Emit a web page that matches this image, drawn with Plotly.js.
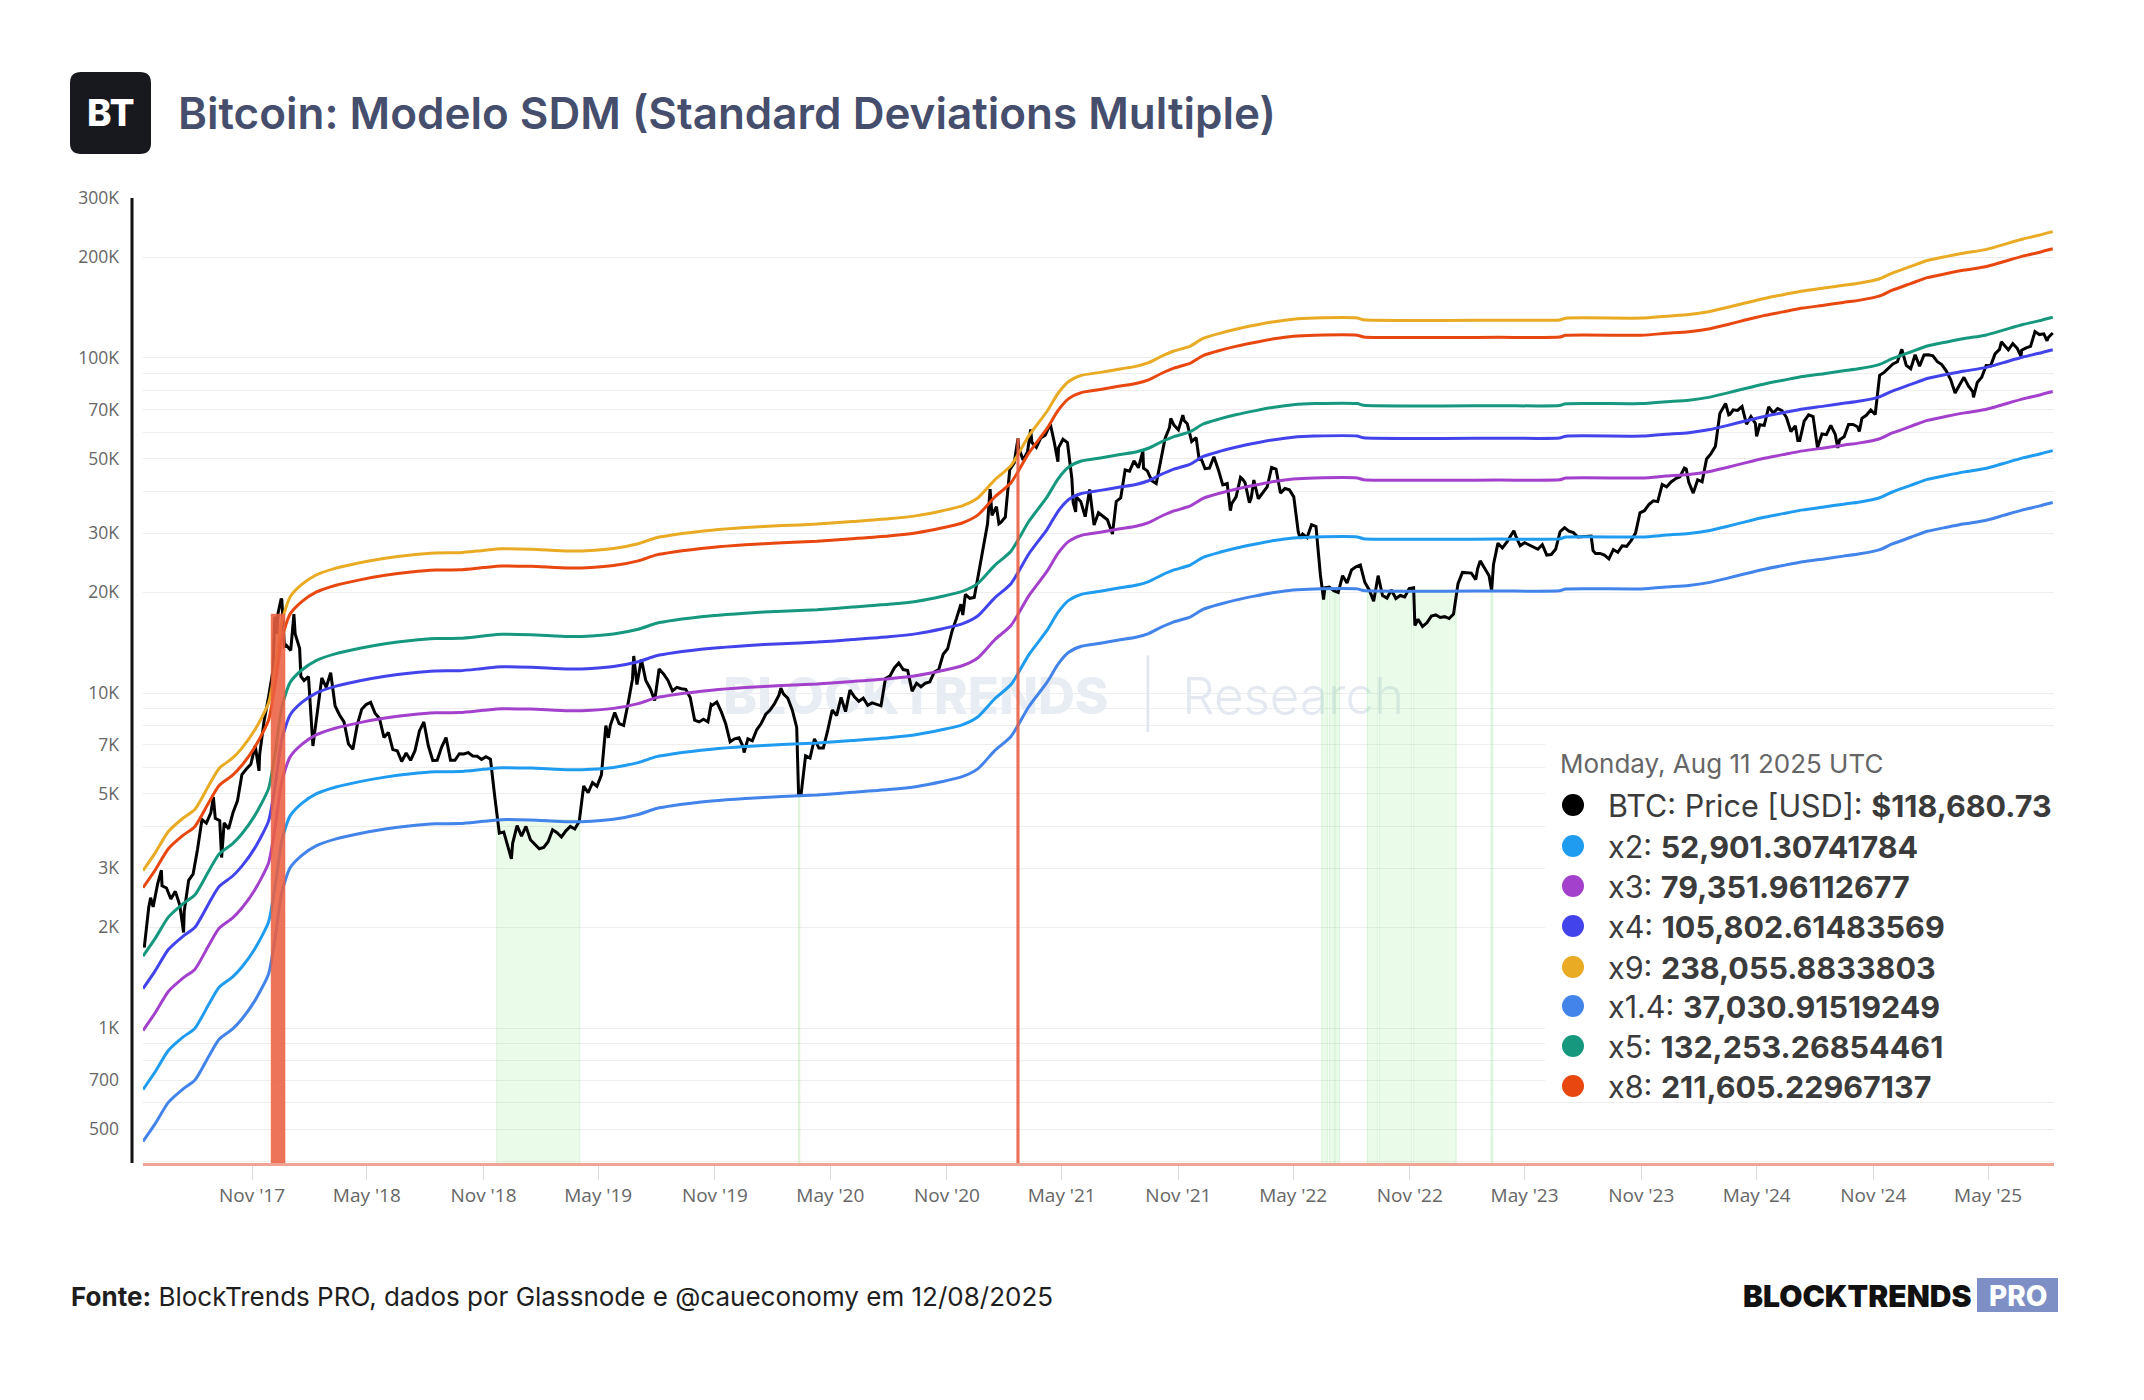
<!DOCTYPE html>
<html>
<head>
<meta charset="utf-8">
<script src="https://cdn.plot.ly/plotly-3.0.1.min.js"></script>
<style>
  html, body { margin: 0; padding: 0; background: #ffffff; }
  #chart { width: 2144px; height: 1400px; }
</style>
</head>
<body>
<div id="chart"></div>
<script>
// ---------- data ----------
// BTC daily closes (USD), roughly weekly plus notable turning points
const btcPrice = [
['2017-05-15',1740],['2017-05-22',2290],['2017-05-25',2450],['2017-05-29',2300],
['2017-06-05',2690],['2017-06-11',2960],['2017-06-12',2660],['2017-06-19',2620],['2017-06-26',2430],
['2017-07-03',2560],['2017-07-10',2330],['2017-07-16',1930],['2017-07-17',2230],['2017-07-24',2760],['2017-07-31',2880],
['2017-08-07',3420],['2017-08-14',4190],['2017-08-21',4090],['2017-08-28',4390],
['2017-09-01',4890],['2017-09-04',4230],['2017-09-11',4160],['2017-09-14',3230],['2017-09-18',4100],['2017-09-25',3930],
['2017-10-02',4400],['2017-10-09',4770],['2017-10-16',5710],['2017-10-23',5930],['2017-10-30',6130],
['2017-11-06',6960],['2017-11-12',5860],['2017-11-13',6550],['2017-11-20',8250],['2017-11-27',9730],
['2017-12-04',11700],['2017-12-07',16900],['2017-12-10',15000],['2017-12-12',17300],['2017-12-17',19140],['2017-12-18',18960],['2017-12-22',13800],['2017-12-25',13900],
['2018-01-01',13400],['2018-01-06',17200],['2018-01-08',15000],['2018-01-15',13600],['2018-01-17',11200],['2018-01-22',10900],['2018-01-29',11200],
['2018-02-05',6950],['2018-02-12',8900],['2018-02-19',11100],['2018-02-26',10400],
['2018-03-05',11500],['2018-03-12',9150],['2018-03-19',8600],['2018-03-26',8200],
['2018-04-02',7050],['2018-04-09',6800],['2018-04-16',8050],['2018-04-23',8950],['2018-04-30',9240],
['2018-05-07',9380],['2018-05-14',8700],['2018-05-21',8400],['2018-05-28',7370],
['2018-06-04',7630],['2018-06-11',6780],['2018-06-18',6730],['2018-06-25',6250],
['2018-07-02',6620],['2018-07-09',6300],['2018-07-16',6730],['2018-07-23',7710],['2018-07-30',8200],
['2018-08-06',6960],['2018-08-13',6290],['2018-08-20',6300],['2018-08-27',6900],
['2018-09-03',7360],['2018-09-10',6300],['2018-09-17',6300],['2018-09-24',6590],
['2018-10-01',6580],['2018-10-08',6640],['2018-10-15',6490],['2018-10-22',6480],['2018-10-29',6340],
['2018-11-05',6460],['2018-11-12',6350],['2018-11-19',4870],['2018-11-26',3820],
['2018-12-03',3850],['2018-12-10',3440],['2018-12-15',3200],['2018-12-17',3560],['2018-12-24',4020],['2018-12-31',3740],
['2019-01-07',4000],['2019-01-14',3650],['2019-01-21',3540],['2019-01-28',3430],
['2019-02-04',3460],['2019-02-11',3600],['2019-02-18',3910],['2019-02-25',3830],
['2019-03-04',3720],['2019-03-11',3880],['2019-03-18',4000],['2019-03-25',3930],
['2019-04-01',4140],['2019-04-08',5280],['2019-04-15',5040],['2019-04-22',5400],['2019-04-29',5270],
['2019-05-06',5700],['2019-05-13',8000],['2019-05-17',7350],['2019-05-20',8000],['2019-05-27',8750],
['2019-06-03',8100],['2019-06-10',8000],['2019-06-17',9300],['2019-06-24',11000],['2019-06-26',12900],
['2019-07-01',10600],['2019-07-08',12600],['2019-07-15',10900],['2019-07-22',10300],['2019-07-29',9500],
['2019-08-05',11800],['2019-08-12',11400],['2019-08-19',10900],['2019-08-26',10150],
['2019-09-02',10400],['2019-09-09',10300],['2019-09-16',10260],['2019-09-23',9700],['2019-09-30',8300],
['2019-10-07',8200],['2019-10-14',8350],['2019-10-21',8200],['2019-10-26',9250],['2019-10-28',9200],
['2019-11-04',9400],['2019-11-11',8800],['2019-11-18',8100],['2019-11-25',7150],
['2019-12-02',7300],['2019-12-09',7350],['2019-12-16',6880],['2019-12-17',6640],['2019-12-23',7300],['2019-12-30',7200],
['2020-01-06',7770],['2020-01-13',8110],['2020-01-20',8630],['2020-01-27',8900],
['2020-02-03',9300],['2020-02-10',9850],['2020-02-13',10350],['2020-02-17',9940],['2020-02-24',9650],
['2020-03-02',8900],['2020-03-09',7900],['2020-03-12',4970],['2020-03-16',5000],['2020-03-23',6500],['2020-03-30',6400],
['2020-04-06',7300],['2020-04-13',6850],['2020-04-20',6850],['2020-04-27',7750],
['2020-05-04',8900],['2020-05-11',8560],['2020-05-18',9700],['2020-05-25',8800],
['2020-06-01',10200],['2020-06-08',9750],['2020-06-15',9450],['2020-06-22',9650],['2020-06-29',9190],
['2020-07-06',9350],['2020-07-13',9250],['2020-07-20',9160],['2020-07-27',11050],
['2020-08-03',11230],['2020-08-10',11880],['2020-08-17',12300],['2020-08-24',11750],['2020-08-31',11680],
['2020-09-07',10130],['2020-09-14',10700],['2020-09-21',10440],['2020-09-28',10700],
['2020-10-05',10800],['2020-10-12',11550],['2020-10-19',11750],['2020-10-26',13050],
['2020-11-02',13550],['2020-11-09',15300],['2020-11-16',16700],['2020-11-23',18400],['2020-11-26',17100],['2020-11-30',19700],
['2020-12-07',19170],['2020-12-14',19270],['2020-12-21',22800],['2020-12-28',27100],
['2021-01-04',31970],['2021-01-08',40600],['2021-01-11',33900],['2021-01-18',36000],['2021-01-22',32000],['2021-01-25',32300],
['2021-02-01',33500],['2021-02-08',46400],['2021-02-15',48600],['2021-02-21',57500],['2021-02-22',54100],
['2021-03-01',49600],['2021-03-08',52400],['2021-03-13',61200],['2021-03-15',55900],['2021-03-22',54100],['2021-03-29',57700],
['2021-04-05',58800],['2021-04-13',63500],['2021-04-19',56300],['2021-04-25',49000],['2021-04-26',54000],
['2021-05-03',57200],['2021-05-10',55900],['2021-05-17',43600],['2021-05-19',37000],['2021-05-23',34700],['2021-05-24',38400],['2021-05-31',37300],
['2021-06-07',33600],['2021-06-14',40500],['2021-06-21',31700],['2021-06-28',34500],
['2021-07-05',33700],['2021-07-12',32900],['2021-07-20',29800],['2021-07-26',37300],
['2021-08-02',38200],['2021-08-09',46300],['2021-08-16',45900],['2021-08-23',49300],['2021-08-30',47000],
['2021-09-06',52700],['2021-09-07',46900],['2021-09-13',46000],['2021-09-20',43000],['2021-09-27',42200],
['2021-10-04',49200],['2021-10-11',57500],['2021-10-18',62000],['2021-10-20',66000],['2021-10-25',63000],
['2021-11-01',61000],['2021-11-08',67500],['2021-11-10',65000],['2021-11-15',63600],['2021-11-22',56300],['2021-11-29',57800],
['2021-12-04',49400],['2021-12-06',50600],['2021-12-13',46700],['2021-12-20',46900],['2021-12-27',50700],
['2022-01-03',46400],['2022-01-10',41800],['2022-01-17',42200],['2022-01-22',35000],['2022-01-24',36700],['2022-01-31',38500],
['2022-02-07',44000],['2022-02-10',43500],['2022-02-14',42500],['2022-02-21',37000],['2022-02-24',38300],['2022-02-28',43200],
['2022-03-07',38000],['2022-03-14',39700],['2022-03-21',41200],['2022-03-28',47100],
['2022-04-04',46600],['2022-04-11',39500],['2022-04-18',40800],['2022-04-25',40400],
['2022-05-02',38500],['2022-05-09',30300],['2022-05-12',28900],['2022-05-16',29800],['2022-05-23',29100],['2022-05-30',31800],
['2022-06-06',31400],['2022-06-13',22500],['2022-06-18',19000],['2022-06-20',20600],['2022-06-27',20700],
['2022-07-04',20200],['2022-07-11',19950],['2022-07-18',22400],['2022-07-25',21300],
['2022-08-01',23300],['2022-08-08',23800],['2022-08-15',24100],['2022-08-22',21400],['2022-08-29',20300],
['2022-09-05',18800],['2022-09-12',22400],['2022-09-19',19550],['2022-09-26',19200],
['2022-10-03',20300],['2022-10-10',19150],['2022-10-17',19550],['2022-10-24',19350],['2022-10-31',20500],
['2022-11-07',20600],['2022-11-09',15900],['2022-11-14',16600],['2022-11-21',15800],['2022-11-28',16200],
['2022-12-05',16970],['2022-12-12',17100],['2022-12-19',16800],['2022-12-26',16900],
['2023-01-02',16680],['2023-01-09',17200],['2023-01-16',21200],['2023-01-23',22900],['2023-01-30',22800],
['2023-02-06',22800],['2023-02-13',21800],['2023-02-16',23500],['2023-02-20',24800],['2023-02-27',23500],
['2023-03-06',22400],['2023-03-10',20200],['2023-03-13',24200],['2023-03-20',28000],['2023-03-27',27100],
['2023-04-03',28200],['2023-04-10',29650],['2023-04-14',30500],['2023-04-17',29450],['2023-04-24',27500],
['2023-05-01',28100],['2023-05-08',27700],['2023-05-15',27200],['2023-05-22',26850],['2023-05-29',27700],
['2023-06-05',25800],['2023-06-12',25900],['2023-06-19',26850],['2023-06-26',30300],
['2023-07-03',31150],['2023-07-10',30400],['2023-07-17',30100],['2023-07-24',29200],['2023-07-31',29250],
['2023-08-07',29200],['2023-08-14',29400],['2023-08-17',26600],['2023-08-21',26100],['2023-08-28',26100],
['2023-09-04',25800],['2023-09-11',25150],['2023-09-18',26800],['2023-09-25',26300],
['2023-10-02',27500],['2023-10-09',27400],['2023-10-16',28500],['2023-10-23',30000],['2023-10-30',34500],
['2023-11-06',35000],['2023-11-13',36500],['2023-11-20',37450],['2023-11-27',37250],
['2023-12-04',41900],['2023-12-11',41250],['2023-12-18',42650],['2023-12-25',43600],
['2024-01-01',44200],['2024-01-08',46900],['2024-01-11',46600],['2024-01-15',42500],['2024-01-22',39500],['2024-01-29',43300],
['2024-02-05',42700],['2024-02-12',49950],['2024-02-19',51800],['2024-02-26',54500],
['2024-03-04',68300],['2024-03-11',72100],['2024-03-13',73100],['2024-03-18',67600],['2024-03-20',67900],['2024-03-25',70000],
['2024-04-01',69700],['2024-04-08',71600],['2024-04-15',63400],['2024-04-22',66800],['2024-04-29',63800],
['2024-05-01',58300],['2024-05-06',63200],['2024-05-13',62900],['2024-05-20',71400],['2024-05-27',68500],
['2024-06-03',70600],['2024-06-10',69600],['2024-06-17',66500],['2024-06-24',60300],
['2024-07-01',62700],['2024-07-05',56700],['2024-07-08',56700],['2024-07-15',64800],['2024-07-22',67600],['2024-07-29',66800],
['2024-08-05',54000],['2024-08-12',59300],['2024-08-19',59000],['2024-08-26',62900],
['2024-09-02',59100],['2024-09-06',53900],['2024-09-09',57000],['2024-09-16',58200],['2024-09-23',63300],['2024-09-30',63300],
['2024-10-07',62300],['2024-10-10',60300],['2024-10-14',66000],['2024-10-21',67400],['2024-10-28',69900],
['2024-11-04',67800],['2024-11-11',88700],['2024-11-18',90500],['2024-11-25',93000],
['2024-12-02',95900],['2024-12-09',97400],['2024-12-16',106100],['2024-12-23',95000],['2024-12-30',92800],
['2025-01-06',102200],['2025-01-13',94500],['2025-01-20',102000],['2025-01-27',102100],
['2025-02-03',101400],['2025-02-10',97400],['2025-02-17',95500],['2025-02-24',91500],
['2025-03-03',86200],['2025-03-10',78600],['2025-03-17',83000],['2025-03-24',87500],['2025-03-31',82500],
['2025-04-07',79200],['2025-04-08',76300],['2025-04-14',84500],['2025-04-21',87500],['2025-04-28',94900],
['2025-05-05',94700],['2025-05-12',102800],['2025-05-19',106000],['2025-05-22',111700],['2025-05-26',109400],
['2025-06-02',105700],['2025-06-09',110300],['2025-06-16',106800],['2025-06-22',101000],['2025-06-23',105500],['2025-06-30',107100],
['2025-07-07',108200],['2025-07-14',119800],['2025-07-21',117400],['2025-07-28',118000],
['2025-08-02',112500],['2025-08-04',115000],['2025-08-11',118680.73]
];

// SDM base level (USD) that every band multiplies
const bandDates = ['2017-05-13','2017-06-01','2017-06-22','2017-07-15','2017-08-03','2017-08-25','2017-09-10','2017-10-01','2017-10-16','2017-11-05','2017-11-27','2017-12-08','2017-12-18','2017-12-31',
'2018-01-18','2018-02-10','2018-03-12','2018-04-20','2018-05-30','2018-07-10','2018-08-17','2018-09-25','2018-11-01','2018-11-30',
'2019-01-15','2019-03-15','2019-04-20','2019-05-25','2019-07-03','2019-08-01','2019-08-28','2019-10-27','2019-12-19',
'2020-02-15','2020-04-10','2020-06-05','2020-08-01','2020-09-15','2020-10-25','2020-11-25','2020-12-20',
'2021-01-15','2021-02-10','2021-03-10','2021-04-08','2021-04-25','2021-05-12','2021-06-01','2021-07-01','2021-08-01','2021-08-26','2021-09-15','2021-10-05','2021-10-25','2021-11-19','2021-12-10',
'2022-01-05','2022-02-01','2022-03-01','2022-04-01','2022-05-01','2022-06-04','2022-08-10','2022-08-20',
'2023-03-22','2023-06-25','2023-07-05','2023-11-02','2023-12-10',
'2024-01-15','2024-02-15','2024-03-15','2024-04-13','2024-05-15','2024-06-15','2024-07-13','2024-08-15','2024-09-15','2024-10-11','2024-11-10','2024-12-01','2024-12-30',
'2025-01-25','2025-02-25','2025-03-25','2025-04-27','2025-05-25','2025-06-25','2025-07-20','2025-08-11'];
const bandBase = [328,370,429,470,500,590,662,710,761,860,1037,1350,1818,2150,
2339,2500,2617,2720,2806,2870,2909,2914,2960,2993,
2985,2950,2960,3000,3100,3230,3296,3400,3462,
3510,3547,3610,3679,3760,3890,4020,4250,
4800,5300,6500,7700,8700,9450,9850,10060,10300,10480,10750,11230,11650,12030,12700,
13150,13550,13900,14250,14500,14610,14610,14440,
14400,14420,14600,14610,14800,
14960,15250,15700,16210,16750,17200,17600,17950,18300,18590,19100,19900,20830,
21700,22320,22850,23380,24200,25150,25800,26450.65370892];

// Bands, in readout order
const bandNames = ['x2','x3','x4','x9','x1.4','x5','x8'];
const bandMultipliers = [2, 3, 4, 9, 1.4, 5, 8];
const bandColors = ['#1f9cf0','#a341cc','#4343ec','#e9aa24','#4384ea','#16987f','#e8470f'];
const bandLastValues = [52901.30741784, 79351.96112677, 105802.61483569, 238055.8833803, 37030.91519249, 132253.26854461, 211605.22967137];

// Signal zones: price above the upper band (red) / below the x1.4 band (green)
const redZoneStart = ['2017-12-01','2021-02-19'];
const redZoneEnd   = ['2017-12-23','2021-02-23'];
const redZoneTop   = [17200, 57500];
const greenZoneStart = ['2018-11-22','2020-03-12','2022-06-15','2022-06-27','2022-07-07','2022-08-26','2022-09-14','2022-11-07','2023-03-09'];
const greenZoneEnd   = ['2019-04-02','2020-03-14','2022-06-24','2022-07-05','2022-07-13','2022-09-11','2022-11-04','2023-01-13','2023-03-12'];
const greenZoneTop   = [4190, 4960, 20450, 20450, 20450, 20250, 20250, 20250, 20200];

// Axis ticks
const xTickDates = ['2017-11-01','2018-05-01','2018-11-01','2019-05-01','2019-11-01','2020-05-01','2020-11-01','2021-05-01','2021-11-01','2022-05-01','2022-11-01','2023-05-01','2023-11-01','2024-05-01','2024-11-01','2025-05-01'];
const xTickLabels = ["Nov '17","May '18","Nov '18","May '19","Nov '19","May '20","Nov '20","May '21","Nov '21","May '22","Nov '22","May '23","Nov '23","May '24","Nov '24","May '25"];
const yGridValues = [400,500,600,700,800,900,1000,2000,3000,4000,5000,6000,7000,8000,9000,10000,20000,30000,40000,50000,60000,70000,80000,90000,100000,200000,300000];
const yGridLabels = ['','500','','700','','','1K','2K','3K','','5K','','7K','','','10K','20K','30K','','50K','','70K','','','100K','200K','300K'];

const readoutDate = 'Monday, Aug 11 2025 UTC';
const priceName = 'BTC: Price [USD]';

// ---------- layout geometry (pixels) ----------
const PL = 143, PT = 198, PW = 1911, PH = 965;
const px = X => (X - PL) / PW;
const py = Y => (PT + PH - Y) / PH;

const sorted = btcPrice.slice().sort((a, b) => a[0] < b[0] ? -1 : 1);
const priceX = sorted.map(d => d[0]);
const priceY = sorted.map(d => d[1]);

const traces = [];

// faint watermark, kept beneath the series
const wmY = 9480;
traces.push({x:['2020-09-13'], y:[wmY], mode:'text', text:['BLOCKTRENDS'], textposition:'middle center',
  textfont:{family:'Inter', size:51, color:'#e8ecf3', weight:800}, hoverinfo:'skip', showlegend:false});
traces.push({x:['2021-09-14'], y:[wmY], mode:'text', text:['|'], textposition:'middle center',
  textfont:{family:'Inter', size:64, color:'#e1e6ee', weight:200}, hoverinfo:'skip', showlegend:false});
traces.push({x:['2022-05-01'], y:[wmY], mode:'text', text:['Research'], textposition:'middle center',
  textfont:{family:'Inter', size:51, color:'#e4e9f1', weight:300}, hoverinfo:'skip', showlegend:false});

// green zones, drawn under the lines
const FLOOR = 100;
greenZoneStart.forEach((s, i) => {
  const e = greenZoneEnd[i], top = greenZoneTop[i];
  traces.push({x:[s, s, e, e], y:[FLOOR, top, top, FLOOR], mode:'lines', fill:'toself',
    fillcolor:'rgba(150,235,150,0.20)', line:{width:1, color:'rgba(120,215,120,0.22)'},
    hoverinfo:'skip', showlegend:false});
});

// price
traces.push({x:priceX, y:priceY, mode:'lines', name:priceName,
  line:{color:'#000000', width:3}, hoverinfo:'skip', showlegend:false});

// bands
bandNames.forEach((name, i) => {
  const ys = bandBase.map(b => b * bandMultipliers[i]);
  ys[ys.length - 1] = bandLastValues[i];
  traces.push({x:bandDates, y:ys, mode:'lines', name:name,
    line:{color:bandColors[i], width:3, shape:'spline', smoothing:0.6},
    hoverinfo:'skip', showlegend:false});
});

// red zones on top
redZoneStart.forEach((s, i) => {
  const e = redZoneEnd[i], top = redZoneTop[i];
  traces.push({x:[s, s, e, e], y:[FLOOR, top, top, FLOOR], mode:'lines', fill:'toself',
    fillcolor:'rgba(234,96,66,0.88)', line:{width:0.5, color:'rgba(234,96,66,0.9)'},
    hoverinfo:'skip', showlegend:false});
});

// ---------- decorations ----------
function roundRect(x0, y0, x1, y1, r) {
  const P = (X, Y) => px(X) + ',' + py(Y);
  return 'M ' + P(x0 + r, y0) + ' L ' + P(x1 - r, y0) + ' Q ' + P(x1, y0) + ' ' + P(x1, y0 + r) +
    ' L ' + P(x1, y1 - r) + ' Q ' + P(x1, y1) + ' ' + P(x1 - r, y1) +
    ' L ' + P(x0 + r, y1) + ' Q ' + P(x0, y1) + ' ' + P(x0, y1 - r) +
    ' L ' + P(x0, y0 + r) + ' Q ' + P(x0, y0) + ' ' + P(x0 + r, y0) + ' Z';
}

const shapes = [
  // dark y-axis rule
  {type:'line', xref:'paper', yref:'paper', x0:px(132), x1:px(132), y0:0, y1:1,
   line:{color:'#111111', width:3}, layer:'above'},
  // logo tile
  {type:'path', xref:'paper', yref:'paper', path:roundRect(70, 72, 151, 154, 11),
   fillcolor:'#17191f', line:{width:0}},
  // PRO badge
  {type:'rect', xref:'paper', yref:'paper', x0:px(1977), x1:px(2058), y0:py(1312), y1:py(1278),
   fillcolor:'#7d8fc4', line:{width:0}},
  // readout panel
  {type:'rect', xref:'paper', yref:'paper', x0:px(1545), x1:px(2058), y0:py(1100), y1:py(735),
   fillcolor:'#ffffff', line:{width:0}, layer:'above'}
];

const annotations = [
  {xref:'paper', yref:'paper', x:px(110.5), y:py(113), xanchor:'center', yanchor:'middle', showarrow:false,
   text:'BT', font:{family:'Inter', size:37, color:'#ffffff', weight:800}},
  {xref:'paper', yref:'paper', x:px(176), y:py(113), xanchor:'left', yanchor:'middle', showarrow:false,
   text:'Bitcoin: Modelo SDM (Standard Deviations Multiple)', font:{family:'Inter', size:44, color:'#464e6d', weight:600}},
  {xref:'paper', yref:'paper', x:px(69), y:py(1296), xanchor:'left', yanchor:'middle', showarrow:false,
   text:'<b>Fonte:</b> BlockTrends PRO, dados por Glassnode e @caueconomy em 12/08/2025', font:{family:'Inter', size:26, color:'#1e1e1e'}},
  {xref:'paper', yref:'paper', x:px(1973), y:py(1296), xanchor:'right', yanchor:'middle', showarrow:false,
   text:'BLOCKTRENDS', font:{family:'Inter', size:30, color:'#111111', weight:900}},
  {xref:'paper', yref:'paper', x:px(2017.5), y:py(1296), xanchor:'center', yanchor:'middle', showarrow:false,
   text:'PRO', font:{family:'Inter', size:28, color:'#ffffff', weight:800}},
  {xref:'paper', yref:'paper', x:px(1558), y:py(763), xanchor:'left', yanchor:'middle', showarrow:false,
   text:readoutDate, font:{family:'Inter', size:26, color:'#666666'}}
];

// readout rows
const rowY = [805, 846, 886, 926, 967, 1006, 1046, 1086];
const fmtPrice = v => '$' + v.toLocaleString('en-US', {minimumFractionDigits:2, maximumFractionDigits:2});
const fmtBand = v => v.toLocaleString('en-US', {maximumFractionDigits:8});
const rows = [{name:priceName, color:'#000000', value:fmtPrice(priceY[priceY.length - 1])}]
  .concat(bandNames.map((n, i) => ({name:n, color:bandColors[i], value:fmtBand(bandLastValues[i])})));
rows.forEach((r, i) => {
  shapes.push({type:'circle', xref:'paper', yref:'paper', xsizemode:'pixel', ysizemode:'pixel',
    xanchor:px(1573), yanchor:py(rowY[i]), x0:-11, x1:11, y0:-11, y1:11,
    fillcolor:r.color, line:{width:0}, layer:'above'});
  annotations.push({xref:'paper', yref:'paper', x:px(1606), y:py(rowY[i]), xanchor:'left', yanchor:'middle', showarrow:false,
    text:r.name + ': <b>' + r.value + '</b>', font:{family:'Inter', size:30.5, color:'#3b3b3b'}});
});

const layout = {
  width:2144, height:1400, autosize:false,
  margin:{l:PL, r:2144 - PL - PW, t:PT, b:1400 - PT - PH, pad:0},
  paper_bgcolor:'#ffffff', plot_bgcolor:'#ffffff',
  showlegend:false, hovermode:false,
  xaxis:{type:'date', range:['2017-05-13','2025-08-13'], tickvals:xTickDates, ticktext:xTickLabels,
    showgrid:false, zeroline:false, ticks:'outside', ticklen:14, tickwidth:1, tickcolor:'#dcdcdc',
    showline:true, linecolor:'#f0a494', linewidth:2.5,
    tickfont:{family:'Open Sans', size:19, color:'#666666'}, fixedrange:true},
  yaxis:{type:'log', range:[Math.log10(396), Math.log10(300000)], tickvals:yGridValues, ticktext:yGridLabels,
    showgrid:true, gridcolor:'#eeeeee', gridwidth:1, zeroline:false, showline:false, ticks:'',
    ticklabelstandoff:23, tickfont:{family:'Open Sans', size:17.5, color:'#666666'}, fixedrange:true},
  shapes:shapes,
  annotations:annotations
};

Plotly.newPlot('chart', traces, layout, {displayModeBar:false, staticPlot:true});
</script>
</body>
</html>
